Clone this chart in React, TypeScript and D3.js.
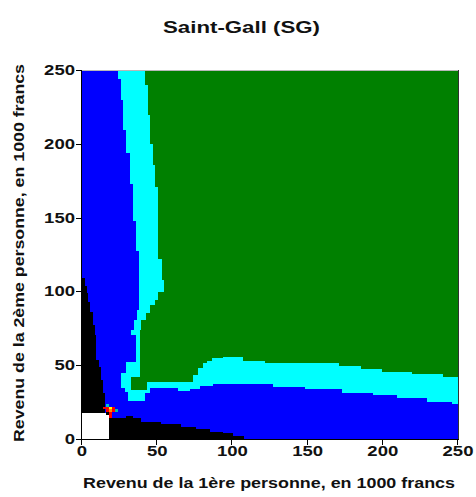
import React from "react";
import * as d3 from "d3";

// ---- data (income units: 1000 francs) ----
const xTicks = [0, 50, 100, 150, 200, 250];
const yTicks = [0, 50, 100, 150, 200, 250];

// outer edge of the cyan zone (vertical band, left side): band boundaries on y, edge x per band
const cyanLeftY = [250, 243.9, 229.7, 209.3, 194.0, 173.0, 147.7, 127.4, 87.4, 80.6, 73.8, 70.4, 52.2, 44.7, 34.6, 31.8, 25.7];
const cyanLeftX = [24.1, 25.9, 27.5, 29.3, 31.9, 33.7, 35.7, 37.9, 36.6, 34.6, 32.6, 36.1, 29.3, 26.1, 28.4, 30.6];
// outer edge of the cyan zone (horizontal band, lower side)
const cyanBottomX = [30.6, 41.9, 45.2, 63.8, 71.8, 78.5, 87.1, 127, 148.3, 172.9, 193.3, 209.2, 229.6, 245.8, 250];
const cyanBottomY = [25.7, 31.2, 34.6, 32.5, 33.9, 35.9, 37.6, 35.4, 33.7, 31.4, 29.8, 27.6, 25.3, 23.5];

// edge of the green zone
const greenLeftY = [250, 240, 219.5, 200.1, 185.6, 170.7, 122.2, 107.7, 99.6, 94.2, 90.8, 85.4, 80.6, 73.8, 42.0, 33.2];
const greenLeftX = [41.9, 44.1, 45.2, 47.0, 48.5, 50.7, 53.0, 54.2, 50.5, 48.3, 45.0, 42.8, 39.4, 38.4, 32.4];
const greenBottomX = [32.4, 43.0, 73.8, 77.1, 80.5, 83.1, 86.4, 93.8, 107.0, 121.7, 171.1, 185.3, 199.3, 219.2, 240.2, 250];
const greenBottomY = [33.2, 38.8, 43.4, 48.1, 51.7, 53.0, 54.7, 55.8, 53.0, 51.3, 49.5, 47.2, 45.2, 43.8, 41.8];

// black zone along the y axis
const blackLeftY = [109.1, 103.7, 98.9, 92.8, 86.2, 77.2, 70.5, 53.5, 48.8, 40, 31.2, 17.5];
const blackLeftX = [1.7, 3.0, 4.3, 5.3, 7.3, 8.8, 9.5, 11.1, 12.4, 14.0, 15.1];
// black zone along the x axis
const blackBottomX = [18, 29.5, 33.9, 39.4, 52.7, 66.0, 76.0, 85.1, 93.8, 100.4, 107.4];
const blackBottomY = [14.0, 15.6, 14.0, 11.7, 10.2, 8.3, 6.6, 4.9, 3.9, 2.2];

// empty (white) corner
const whiteX = [0, 18];
const whiteY = [0, 17.5];

// small multicoloured spot (2x2 cells)
const spotX = [16, 14, 16, 18, 20, 16, 18, 20, 22, 16, 18, 18];
const spotY = [22, 20, 20, 20, 20, 18, 18, 18, 18, 16, 16, 14];
const spotC = ["#00c8c8", "#ff0000", "#ff0000", "#ffff00", "#ff0000", "#ff0000", "#ff9000", "#ff0000", "#00c0a0", "#000000", "#ff0000", "#ff0000"];

const title = "Saint-Gall (SG)";
const xLabel = "Revenu de la 1ère personne, en 1000 francs";
const yLabel = "Revenu de la 2ème personne, en 1000 francs";

const COL = { blue: "#0000ff", cyan: "#00ffff", green: "#008000", black: "#000000", white: "#ffffff" };

export default function App() {
  const W = 476, H = 497;
  const L = 82, R = 458, T = 70, B = 439;
  const x = d3.scaleLinear().domain([0, 250]).range([L, R]);
  const y = d3.scaleLinear().domain([0, 250]).range([B, T]);
  const line = d3.line<[number, number]>().x(d => x(d[0])).y(d => y(d[1]));

  const vSteps = (Y: number[], X: number[]) => {
    const p: [number, number][] = [];
    X.forEach((xv, i) => { p.push([xv, Y[i]]); p.push([xv, Y[i + 1]]); });
    return p;
  };
  const hSteps = (X: number[], Y: number[]) => {
    const p: [number, number][] = [];
    Y.forEach((yv, i) => { p.push([X[i], yv]); p.push([X[i + 1], yv]); });
    return p;
  };

  const cyanPoly: [number, number][] = [...vSteps(cyanLeftY, cyanLeftX), ...hSteps(cyanBottomX, cyanBottomY), [250, 250]];
  const greenPoly: [number, number][] = [...vSteps(greenLeftY, greenLeftX), ...hSteps(greenBottomX, greenBottomY), [250, 250]];
  const blackLeftPoly: [number, number][] = [[0, blackLeftY[0]], ...vSteps(blackLeftY, blackLeftX), [0, blackLeftY[blackLeftY.length - 1]]];
  const blackBottomPoly: [number, number][] = [[blackBottomX[0], 0], ...hSteps(blackBottomX, blackBottomY), [blackBottomX[blackBottomX.length - 1], 0]];

  const font = "'Liberation Sans', Arial, sans-serif";
  const digitW = 10.3;

  return (
    <svg width={W} height={H} style={{ position: "absolute", left: 0, top: 0, background: "#fff" }} fontFamily={font}>
      <g shapeRendering="crispEdges" stroke="none">
        <rect x={L} y={T} width={R - L} height={B - T} fill={COL.blue} />
        <path d={line(cyanPoly) + "Z"} fill={COL.cyan} fillRule="nonzero" />
        <path d={line(greenPoly) + "Z"} fill={COL.green} fillRule="nonzero" />
        <path d={line(blackLeftPoly) + "Z"} fill={COL.black} />
        <path d={line(blackBottomPoly) + "Z"} fill={COL.black} />
        <rect x={x(whiteX[0])} y={y(whiteY[1])} width={x(whiteX[1]) - x(whiteX[0])} height={y(whiteY[0]) - y(whiteY[1])} fill={COL.white} />
        {spotX.map((sx, i) => (
          <rect key={i} x={x(sx)} y={y(spotY[i] + 2)} width={x(sx + 2) - x(sx)} height={y(spotY[i]) - y(spotY[i] + 2)} fill={spotC[i]} />
        ))}
      </g>
      <g shapeRendering="crispEdges">
        <line x1={L} x2={R} y1={T + 0.5} y2={T + 0.5} stroke="#b8b8b8" />
        <line x1={R + 0.5} x2={R + 0.5} y1={T} y2={B} stroke="#303030" />
        <line x1={L - 0.5} x2={L - 0.5} y1={T} y2={B + 1} stroke="#000" />
        <line x1={L - 1} x2={R + 1} y1={B + 0.5} y2={B + 0.5} stroke="#000" />
        {yTicks.map(t => (
          <line key={"yt" + t} x1={L - 6} x2={L} y1={Math.round(y(t)) + 0.5} y2={Math.round(y(t)) + 0.5} stroke="#000" />
        ))}
        {xTicks.map(t => (
          <line key={"xt" + t} x1={Math.round(x(t)) - 0.5} x2={Math.round(x(t)) - 0.5} y1={B} y2={B + 6} stroke="#000" />
        ))}
      </g>
      {yTicks.map(t => (
        <text key={"yl" + t} x={75} y={y(t) + 5} textAnchor="end" fontSize={15} fontWeight="bold" fill="#111"
          textLength={String(t).length * digitW} lengthAdjust="spacingAndGlyphs">{t}</text>
      ))}
      {xTicks.map(t => (
        <text key={"xl" + t} x={x(t)} y={456} textAnchor="middle" fontSize={15} fontWeight="bold" fill="#111"
          textLength={String(t).length * digitW} lengthAdjust="spacingAndGlyphs">{t}</text>
      ))}
      <text x={241.5} y={33} textAnchor="middle" fontSize={17} fontWeight="bold" fill="#111"
        textLength={157} lengthAdjust="spacingAndGlyphs">{title}</text>
      <text x={269} y={488} textAnchor="middle" fontSize={15.5} fontWeight="bold" fill="#111"
        textLength={372} lengthAdjust="spacingAndGlyphs">{xLabel}</text>
      <text transform={`translate(24,253) rotate(-90)`} textAnchor="middle" fontSize={15.5} fontWeight="bold" fill="#111"
        textLength={378} lengthAdjust="spacingAndGlyphs">{yLabel}</text>
    </svg>
  );
}
